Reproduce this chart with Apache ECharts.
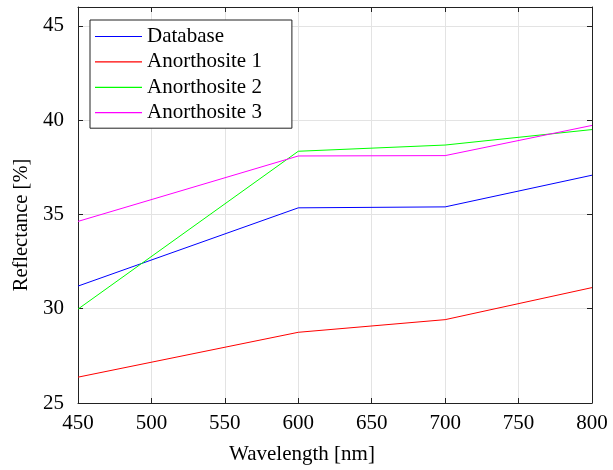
<!DOCTYPE html>
<html>
<head>
<meta charset="utf-8">
<script src="https://cdn.jsdelivr.net/npm/echarts@6/dist/echarts.min.js"></script>
<style>html,body{margin:0;padding:0;background:#fff}#c{width:613px;height:470px}</style>
</head>
<body>
<div id="c"></div>
<script>
const wavelengths = [450, 600, 700, 800];
const database = [31.2, 35.35, 35.4, 37.08];
const anorthosite1 = [26.37, 28.75, 29.42, 31.12];
const anorthosite2 = [29.98, 38.35, 38.68, 39.5];
const anorthosite3 = [34.63, 38.1, 38.12, 39.72];
const seriesNames = ['Database', 'Anorthosite 1', 'Anorthosite 2', 'Anorthosite 3'];
const seriesColors = ['#0000ff', '#ff0000', '#00ff00', '#ff00ff'];
const seriesValues = [database, anorthosite1, anorthosite2, anorthosite3];

const font = 'Liberation Serif';
const chart = echarts.init(document.getElementById('c'), null, {renderer: 'canvas'});
const axisLine = {show: true, lineStyle: {color: '#222', width: 1}};
const tick = {show: true, inside: true, length: 5, lineStyle: {color: '#222'}};
chart.setOption({
  animation: false,
  backgroundColor: '#fff',
  grid: {left: 78, right: 21, top: 7, bottom: 65, containLabel: false},
  legend: {
    left: 90, top: 20, orient: 'vertical',
    icon: 'rect', itemWidth: 47, itemHeight: 1.2, itemGap: 4.4,
    padding: [6, 30, 5, 5],
    borderColor: '#222', borderWidth: 1, backgroundColor: '#fff',
    textStyle: {fontFamily: font, fontSize: 21, color: '#000', lineHeight: 21},
    data: seriesNames
  },
  xAxis: [{
    type: 'value', min: 450, max: 800, interval: 50,
    name: 'Wavelength [nm]', nameLocation: 'middle', nameGap: 41,
    nameTextStyle: {fontFamily: font, fontSize: 21, color: '#000', padding: [0, 66, 0, 0]},
    axisLine: axisLine, axisTick: tick,
    axisLabel: {fontFamily: font, fontSize: 21, color: '#000', margin: 10},
    splitLine: {show: true, lineStyle: {color: '#e3e3e3', width: 1}}
  }, {
    type: 'value', position: 'top', min: 450, max: 800, interval: 50,
    axisLine: axisLine, axisTick: tick, axisLabel: {show: false}, splitLine: {show: false}
  }],
  yAxis: [{
    type: 'value', min: 25, max: 46, interval: 5,
    name: 'Reflectance [%]', nameLocation: 'middle', nameGap: 44,
    nameTextStyle: {fontFamily: font, fontSize: 20.5, color: '#000', padding: [0, 40, 0, 0]},
    axisLine: axisLine, axisTick: tick,
    axisLabel: {fontFamily: font, fontSize: 21, color: '#000', margin: 14,
      formatter: v => (v % 5 === 0 ? String(v) : '')},
    splitLine: {show: true, lineStyle: {color: '#e3e3e3', width: 1}}
  }, {
    type: 'value', position: 'right', min: 25, max: 46, interval: 5,
    axisLine: axisLine, axisTick: tick, axisLabel: {show: false}, splitLine: {show: false}
  }],
  series: seriesNames.map((n, i) => ({
    name: n, type: 'line', symbol: 'none', color: seriesColors[i],
    lineStyle: {width: 1, color: seriesColors[i]},
    data: wavelengths.map((w, j) => [w, seriesValues[i][j]])
  }))
});
</script>
</body>
</html>
